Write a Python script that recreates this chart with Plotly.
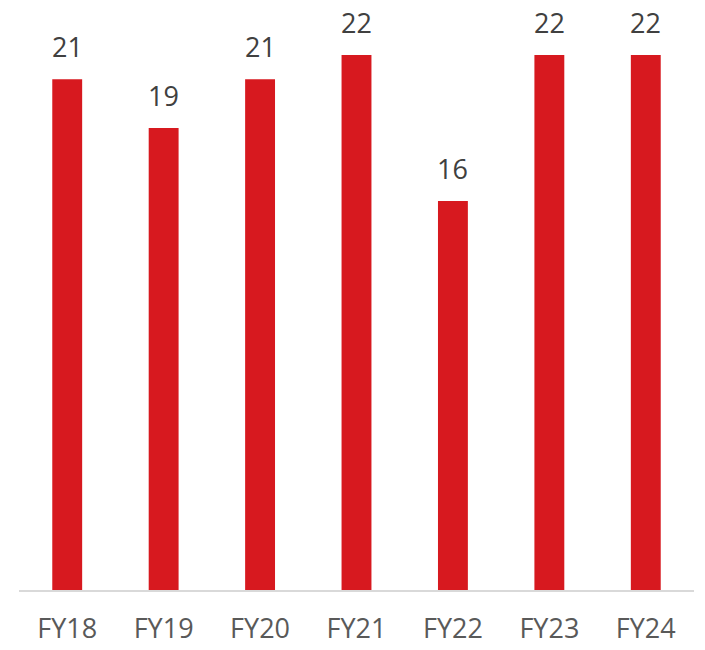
import plotly.graph_objects as go

categories = ["FY18", "FY19", "FY20", "FY21", "FY22", "FY23", "FY24"]
values = [21, 19, 21, 22, 16, 22, 22]

BAR_COLOR = "#D7191F"
FONT = "Open Sans"

fig = go.Figure()
fig.add_trace(go.Bar(x=categories, y=values, marker=dict(color=BAR_COLOR, line=dict(width=0)),
                     hoverinfo="skip"))

for c, v in zip(categories, values):
    fig.add_annotation(x=c, y=v, text=str(v), showarrow=False, yanchor="bottom",
                       yshift=12, font=dict(family=FONT, size=27, color="#404040"))

fig.update_layout(
    width=705, height=650,
    margin=dict(l=19, r=11, t=0, b=60),
    paper_bgcolor="white", plot_bgcolor="white",
    bargap=0.69, showlegend=False,
    xaxis=dict(showline=True, linecolor="#D9D9D9", linewidth=2, ticks="outside",
               ticklen=14, tickcolor="rgba(0,0,0,0)",
               tickfont=dict(family=FONT, size=27, color="#595959"), showgrid=False),
    yaxis=dict(range=[0, 24.26], visible=False, showgrid=False, zeroline=False),
)

fig.write_html("out.html")
